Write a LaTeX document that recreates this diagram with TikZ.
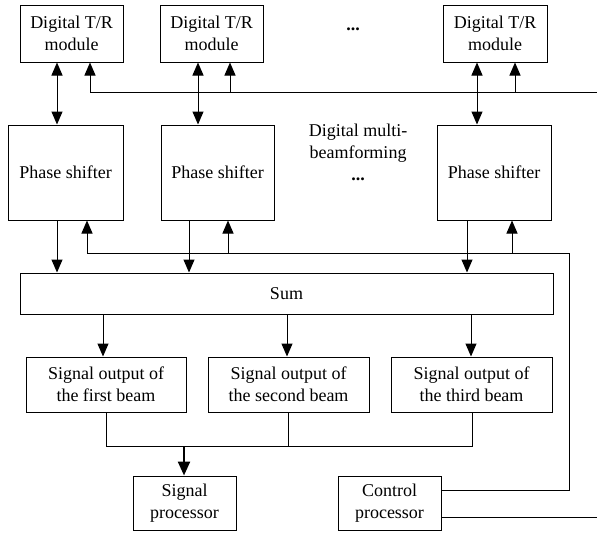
\documentclass[tikz,border=0pt]{standalone}
\usepackage{fontspec}
\setmainfont{Liberation Serif}
\usetikzlibrary{arrows.meta}
\begin{document}
\begin{tikzpicture}[x=1pt,y=-1pt,
  box/.style={draw,line width=1pt,align=center,inner sep=0pt,font=\fontsize{18}{22}\selectfont},
  lbl/.style={align=center,inner sep=0pt,font=\fontsize{18}{22}\selectfont},
  ln/.style={line width=1pt},
  arr/.style={line width=1pt,-{Triangle[length=13pt,width=11pt]}},
  dbl/.style={line width=1pt,{Triangle[length=13pt,width=11pt]}-{Triangle[length=13pt,width=11pt]}},
  thk/.style={line width=2.4pt,-{Triangle[length=14pt,width=12pt]}}]
\useasboundingbox (0,0) rectangle (597,533);
% nodes
\node[box,minimum width=103pt,minimum height=57pt] (TR1) at (71.5,33.5) {Digital T/R\\module};
\node[box,minimum width=103pt,minimum height=57pt] (TR2) at (211.5,33.5) {Digital T/R\\module};
\node[box,minimum width=104pt,minimum height=57pt] (TR3) at (495,33.5) {Digital T/R\\module};
\node[lbl] (dots1) at (353,29) {\textbf{...}};
\node[box,minimum width=115pt,minimum height=95pt] (PS1) at (65.5,172.5) {Phase shifter};
\node[box,minimum width=113pt,minimum height=95pt] (PS2) at (217.5,172.5) {Phase shifter};
\node[box,minimum width=114pt,minimum height=95pt] (PS3) at (494,172.5) {Phase shifter};
\node[lbl] (dmb) at (358,152) {Digital multi-\\beamforming\\\textbf{...}};
\node[box,minimum width=533pt,minimum height=41pt] (sum) at (286.5,293.5) {Sum};
\node[box,minimum width=160pt,minimum height=55pt] (SO1) at (106,384.5) {Signal output of\\the first beam};
\node[box,minimum width=161pt,minimum height=55pt] (SO2) at (288.5,384.5) {Signal output of\\the second beam};
\node[box,minimum width=161pt,minimum height=55pt] (SO3) at (471.5,384.5) {Signal output of\\the third beam};
\node[box,minimum width=103pt,minimum height=54pt] (SP) at (184.5,503) {Signal\\processor};
\node[box,minimum width=103pt,minimum height=54pt] (CP) at (389.5,503) {Control\\processor};
% coordinates
\coordinate (busT) at (597,92);
\coordinate (t1) at (90,92);
\coordinate (t2) at (230,92);
\coordinate (t3) at (515,92);
\coordinate (m1) at (87,253);
\coordinate (m2) at (228,253);
\coordinate (m3) at (512,253);
\coordinate (mR) at (569,253);
\coordinate (cR) at (569,490);
\coordinate (busB) at (597,517);
\coordinate (j1) at (106,446);
\coordinate (j3) at (472,446);
\coordinate (jS) at (184,446);
% TR <-> PS
\draw[dbl] (TR1.south -| 57,0) -- (PS1.north -| 57,0);
\draw[dbl] (TR2.south -| 198,0) -- (PS2.north -| 198,0);
\draw[dbl] (TR3.south -| 477,0) -- (PS3.north -| 477,0);
% top control bus
\draw[ln] (busT) -- (t1);
\draw[arr] (t1) -- (t1 |- TR1.south);
\draw[arr] (t2) -- (t2 |- TR2.south);
\draw[arr] (t3) -- (t3 |- TR3.south);
% PS -> Sum
\draw[arr] (PS1.south -| 57,0) -- (sum.north -| 57,0);
\draw[arr] (PS2.south -| 189,0) -- (sum.north -| 189,0);
\draw[arr] (PS3.south -| 467,0) -- (sum.north -| 467,0);
% middle control bus
\draw[ln] (CP.east |- cR) -- (cR) -- (mR) -- (m1);
\draw[arr] (m1) -- (m1 |- PS1.south);
\draw[arr] (m2) -- (m2 |- PS2.south);
\draw[arr] (m3) -- (m3 |- PS3.south);
% Sum -> SO
\draw[arr] (sum.south -| 103,0) -- (SO1.north -| 103,0);
\draw[arr] (sum.south -| 287,0) -- (SO2.north -| 287,0);
\draw[arr] (sum.south -| 471,0) -- (SO3.north -| 471,0);
% SO -> SP
\draw[ln] (SO1.south -| j1) -- (j1) -- (j3) -- (SO3.south -| j3);
\draw[ln] (SO2.south) -- (SO2.south |- j1);
\draw[thk] (jS) -- (SP.north -| jS);
% CP second line
\draw[ln] (CP.east |- busB) -- (busB);
\end{tikzpicture}
\end{document}
